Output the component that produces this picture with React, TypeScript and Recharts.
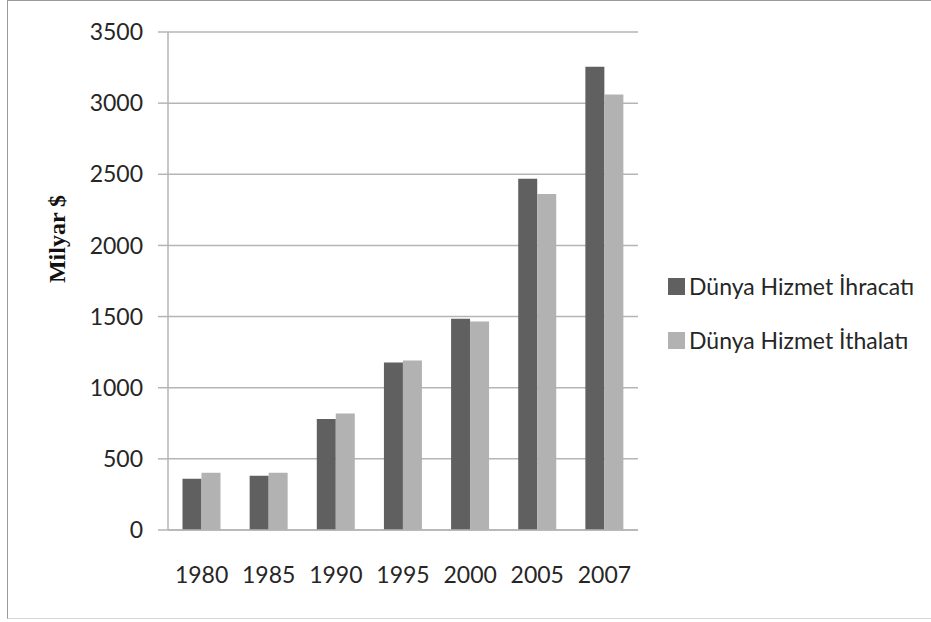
import { BarChart, Bar, XAxis, YAxis, CartesianGrid, Label } from 'recharts'

const years = ['1980', '1985', '1990', '1995', '2000', '2005', '2007']
const exportsVal = [361, 382, 780, 1178, 1484, 2468, 3256]
const importsVal = [403, 403, 818, 1192, 1465, 2361, 3061]
const yTicks = [0, 500, 1000, 1500, 2000, 2500, 3000, 3500]
const seriesNames = ['Dünya Hizmet İhracatı', 'Dünya Hizmet İthalatı']
const seriesColors = ['#606060', '#b2b2b2']

const data = years.map((y, i) => ({ year: y, exp: exportsVal[i], imp: importsVal[i] }))

const FONT = 'Lato, "Open Sans", sans-serif'

const AxisTitle = () => (
  <text
    x={57} y={239}
    transform="rotate(-90 57 239)"
    textAnchor="middle" dominantBaseline="central"
    fontFamily='"Liberation Serif", "Times New Roman", serif'
    fontWeight="bold" fontSize={24} fill="#111"
  >
    Milyar $
  </text>
)

export default function App() {
  return (
    <div style={{ position: 'absolute', left: 0, top: 0, width: 931, height: 622, background: '#fff', fontFamily: FONT }}>
      <div style={{
        position: 'absolute', left: 7, top: 0, width: 924, height: 619,
        borderLeft: '1.5px solid #9a9a9a', borderTop: '1.5px solid #9a9a9a', borderBottom: '1px solid #d8d8d8',
        boxSizing: 'border-box'
      }} />
      <BarChart
        width={931} height={622} data={data}
        margin={{ top: 32, right: 293, bottom: 32, left: 0 }}
        barCategoryGap="21.6%" barGap={0}
        style={{ position: 'absolute', left: 0, top: 0 }}
      >
        <CartesianGrid vertical={false} stroke="#b5b5b5" strokeWidth={1.5} />
        <XAxis
          dataKey="year" height={60} tickLine={false} tickSize={0} tickMargin={37}
          axisLine={{ stroke: '#b5b5b5', strokeWidth: 1.5 }}
          tick={{ fill: '#262626', fontSize: 23, fontFamily: FONT }}
        />
        <YAxis
          width={168} domain={[0, 3500]} ticks={yTicks} interval={0}
          tickSize={10} tickMargin={15}
          tickLine={{ stroke: '#b5b5b5', strokeWidth: 1.5 }}
          axisLine={{ stroke: '#b5b5b5', strokeWidth: 1.5 }}
          tick={{ fill: '#262626', fontSize: 23, fontFamily: FONT }}
        >
          <Label content={<AxisTitle />} />
        </YAxis>
        <Bar dataKey="exp" name={seriesNames[0]} fill={seriesColors[0]} isAnimationActive={false} />
        <Bar dataKey="imp" name={seriesNames[1]} fill={seriesColors[1]} isAnimationActive={false} />
      </BarChart>
      <div style={{ position: 'absolute', left: 668, top: 270 }}>
        {seriesNames.map((n, i) => (
          <div key={n} style={{ display: 'flex', alignItems: 'center', height: 32, marginBottom: i === 0 ? 22 : 0 }}>
            <span style={{ width: 17, height: 17, background: seriesColors[i], display: 'inline-block', marginRight: 4 }} />
            <span style={{ fontSize: 23, color: '#262626', whiteSpace: 'nowrap' }}>{n}</span>
          </div>
        ))}
      </div>
    </div>
  )
}
